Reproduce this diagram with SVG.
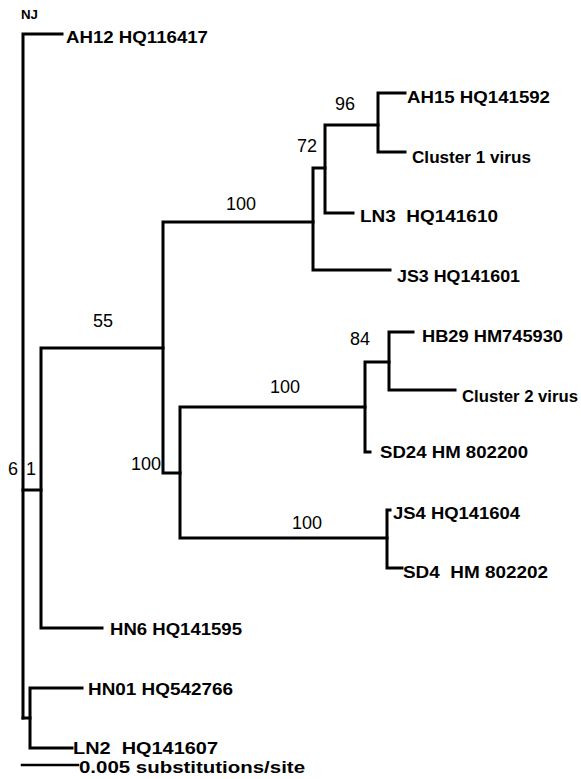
<svg xmlns="http://www.w3.org/2000/svg" width="581" height="779" viewBox="0 0 581 779">
<style>
.e{fill:none;stroke:#000;stroke-width:3;stroke-linecap:square;stroke-linejoin:miter}
.lb{font-family:"Liberation Sans",Arial,sans-serif;font-size:17px;font-weight:bold;fill:#000}
.bs{font-family:"Liberation Sans",Arial,sans-serif;font-size:18px;fill:#000}
</style>
<rect width="581" height="779" fill="#fff"/>
<g id="connectors" class="e">
<path d="M62,34H23V718"/>
<path d="M23,490H41"/>
<path d="M102,628H41V348H163"/>
<path d="M313,222H163V473H180"/>
<path d="M390,270H313V168H325"/>
<path d="M353,213H325V125H378"/>
<path d="M405,93H378V152H405"/>
<path d="M365,407H180V538H387"/>
<path d="M370,452H365V362H389"/>
<path d="M413,332H389V390H455"/>
<path d="M390,510H387V568H402"/>
<path d="M23,718H30"/>
<path d="M82,688H30V748H72"/>
<path d="M22,765H78" stroke-width="2.5"/>
</g>
<g id="title"><text class="lb" x="21" y="19" style="font-size:13px" textLength="17" lengthAdjust="spacingAndGlyphs">NJ</text></g>
<g id="AH12"><text class="lb" x="66" y="43" textLength="142" lengthAdjust="spacingAndGlyphs">AH12 HQ116417</text></g>
<g id="AH15"><text class="lb" x="407" y="103" textLength="143" lengthAdjust="spacingAndGlyphs">AH15 HQ141592</text></g>
<g id="Cluster1"><text class="lb" x="412" y="163" textLength="119" lengthAdjust="spacingAndGlyphs">Cluster 1 virus</text></g>
<g id="LN3"><text class="lb" x="360" y="222" textLength="138" lengthAdjust="spacingAndGlyphs" xml:space="preserve">LN3  HQ141610</text></g>
<g id="JS3"><text class="lb" x="397" y="282" textLength="123" lengthAdjust="spacingAndGlyphs">JS3 HQ141601</text></g>
<g id="HB29"><text class="lb" x="422" y="342" textLength="141" lengthAdjust="spacingAndGlyphs">HB29 HM745930</text></g>
<g id="Cluster2"><text class="lb" x="462" y="402" textLength="116" lengthAdjust="spacingAndGlyphs">Cluster 2 virus</text></g>
<g id="SD24"><text class="lb" x="380" y="458" textLength="148" lengthAdjust="spacingAndGlyphs">SD24 HM 802200</text></g>
<g id="JS4"><text class="lb" x="393" y="519" textLength="127" lengthAdjust="spacingAndGlyphs">JS4 HQ141604</text></g>
<g id="SD4"><text class="lb" x="403" y="578" textLength="145" lengthAdjust="spacingAndGlyphs" xml:space="preserve">SD4  HM 802202</text></g>
<g id="HN6"><text class="lb" x="110" y="635" textLength="132" lengthAdjust="spacingAndGlyphs">HN6 HQ141595</text></g>
<g id="HN01"><text class="lb" x="88" y="695" textLength="145" lengthAdjust="spacingAndGlyphs">HN01 HQ542766</text></g>
<g id="LN2"><text class="lb" x="73" y="754" textLength="145" lengthAdjust="spacingAndGlyphs" xml:space="preserve">LN2  HQ141607</text></g>
<g id="scale"><text class="lb" x="79" y="773" style="font-size:16px" textLength="226" lengthAdjust="spacingAndGlyphs">0.005 substitutions/site</text></g>
<g id="bootstrap">
<text class="bs" x="335" y="110">96</text>
<text class="bs" x="297" y="152">72</text>
<text class="bs" x="226" y="210">100</text>
<text class="bs" x="93" y="327">55</text>
<text class="bs" x="8" y="475">6</text>
<text class="bs" x="26" y="475">1</text>
<text class="bs" x="131" y="470">100</text>
<text class="bs" x="270" y="393">100</text>
<text class="bs" x="350" y="345">84</text>
<text class="bs" x="292" y="529">100</text>
</g>
</svg>
